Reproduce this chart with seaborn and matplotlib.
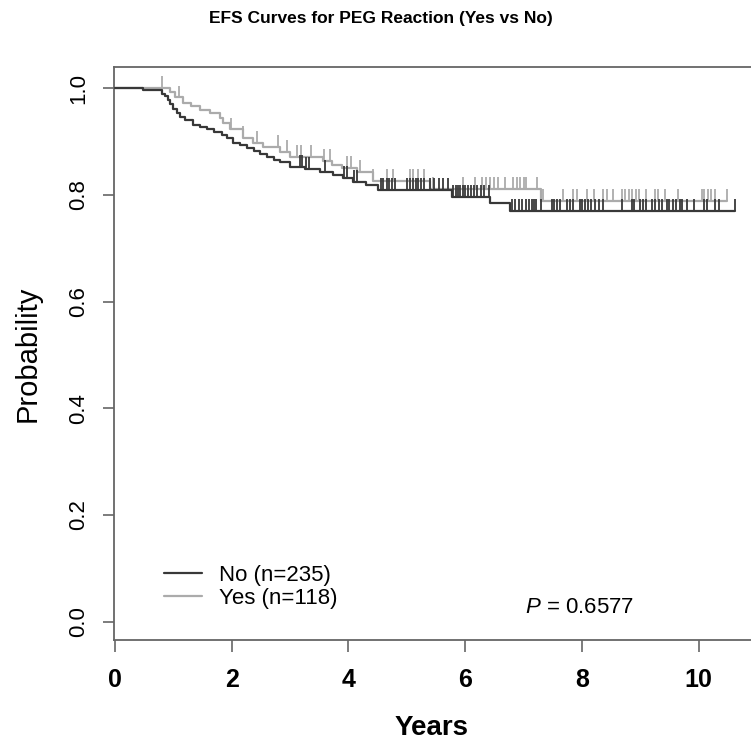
import numpy as np
import pandas as pd
import matplotlib
matplotlib.use("Agg")
import matplotlib.pyplot as plt
import seaborn as sns
from matplotlib.path import Path

# survival steps (time in years, probability after the step)
no_times = [0.0, 0.48, 0.80, 0.85, 0.90, 0.95, 1.00, 1.06, 1.12, 1.20, 1.34, 1.45, 1.57, 1.70,
            1.83, 1.92, 2.02, 2.15, 2.26, 2.38, 2.49, 2.60, 2.72, 2.83, 3.00, 3.25, 3.51, 3.74,
            3.90, 4.08, 4.30, 4.51, 5.78, 6.43, 6.77, 10.63]
no_surv = [1.0, 0.996, 0.990, 0.985, 0.978, 0.970, 0.962, 0.954, 0.947, 0.940, 0.932, 0.928,
           0.924, 0.918, 0.913, 0.906, 0.898, 0.893, 0.889, 0.882, 0.876, 0.871, 0.866, 0.862,
           0.853, 0.849, 0.843, 0.838, 0.832, 0.825, 0.818, 0.810, 0.797, 0.785, 0.770, 0.770]

yes_times = [0.0, 0.94, 1.03, 1.17, 1.30, 1.46, 1.62, 1.80, 1.85, 1.97, 2.20, 2.37, 2.54, 2.83,
             3.00, 3.57, 3.72, 3.89, 4.14, 4.42, 5.40, 7.30, 10.48]
yes_surv = [1.0, 0.993, 0.983, 0.973, 0.967, 0.960, 0.953, 0.945, 0.935, 0.923, 0.907, 0.898,
            0.890, 0.881, 0.872, 0.864, 0.857, 0.851, 0.844, 0.826, 0.812, 0.789, 0.789]

# censoring times
no_censor = [3.17, 3.20, 3.27, 3.32, 3.60, 3.93, 3.97, 4.10, 4.15, 4.55, 4.60, 4.66, 4.70, 4.75,
             4.80, 5.00, 5.05, 5.10, 5.15, 5.20, 5.25, 5.30, 5.40, 5.47, 5.55, 5.62, 5.70, 5.80,
             5.85, 5.88, 5.92, 5.96, 6.00, 6.05, 6.10, 6.15, 6.20, 6.27, 6.33, 6.40, 6.80, 6.86,
             6.92, 6.98, 7.05, 7.10, 7.14, 7.18, 7.22, 7.30, 7.48, 7.52, 7.58, 7.63, 7.74, 7.80,
             7.85, 7.97, 8.00, 8.05, 8.10, 8.15, 8.22, 8.30, 8.37, 8.68, 8.85, 8.90, 9.00, 9.05,
             9.10, 9.20, 9.25, 9.32, 9.38, 9.45, 9.50, 9.56, 9.62, 9.68, 9.72, 9.80, 9.92, 10.10,
             10.15, 10.28, 10.35, 10.63]
yes_censor = [0.80, 1.10, 1.99, 2.20, 2.43, 2.80, 2.94, 3.11, 3.19, 3.36, 3.58, 3.68, 3.98, 4.04,
              4.20, 4.42, 4.66, 4.77, 5.06, 5.11, 5.20, 5.30, 5.45, 5.97, 6.17, 6.29, 6.36, 6.43,
              6.50, 6.57, 6.68, 6.82, 6.88, 6.94, 7.00, 7.05, 7.23, 7.34, 7.68, 7.85, 7.91, 8.08,
              8.20, 8.37, 8.43, 8.54, 8.68, 8.74, 8.80, 8.86, 8.92, 8.98, 9.10, 9.25, 9.30, 9.42,
              9.65, 10.05, 10.10, 10.16, 10.22, 10.28, 10.48]

groups = ["No (n=235)", "Yes (n=118)"]
colors = {"No (n=235)": "#383838", "Yes (n=118)": "#ababab"}
x_ticks = [0, 2, 4, 6, 8, 10]
y_ticks = [0.0, 0.2, 0.4, 0.6, 0.8, 1.0]

sns.set_theme(style="white")
plt.rcParams["font.family"] = ["Liberation Sans", "DejaVu Sans"]
plt.rcParams["mathtext.fontset"] = "custom"
plt.rcParams["mathtext.it"] = "Liberation Sans:italic"
plt.rcParams["mathtext.rm"] = "Liberation Sans"
plt.rcParams["text.color"] = "black"
plt.rcParams["axes.labelcolor"] = "black"

def level_at(times, surv, t):
    idx = np.searchsorted(times, t, side="right") - 1
    return np.asarray(surv)[idx]

curves = pd.concat([
    pd.DataFrame({"t": no_times, "s": no_surv, "g": groups[0]}),
    pd.DataFrame({"t": yes_times, "s": yes_surv, "g": groups[1]}),
])
marks = pd.concat([
    pd.DataFrame({"t": no_censor, "s": level_at(no_times, no_surv, no_censor), "g": groups[0]}),
    pd.DataFrame({"t": yes_censor, "s": level_at(yes_times, yes_surv, yes_censor), "g": groups[1]}),
])

fig = plt.figure(figsize=(7.51, 7.47), dpi=100)
ax = fig.add_axes([114 / 751, 107 / 747, 678 / 751, 573.3 / 747])

# upward tick for censored observations
tick = Path([(0, 0), (0, 1)], [Path.MOVETO, Path.LINETO])

for g, z in [(groups[0], 3), (groups[1], 2)]:
    d = curves[curves.g == g]
    sns.lineplot(data=d, x="t", y="s", ax=ax, drawstyle="steps-post", estimator=None,
                 sort=False, color=colors[g], linewidth=1.6, label=g, zorder=z)
    m = marks[marks.g == g]
    ax.scatter(m.t, m.s, marker=tick, s=290, linewidths=1.3, edgecolors=colors[g],
               facecolors="none", zorder=z)

ax.set_xlim(-0.017, 11.6)
ax.set_ylim(-0.0343, 1.0405)
ax.set_xticks(x_ticks)
ax.set_xticklabels([str(v) for v in x_ticks], fontsize=18, fontweight="bold")
ax.set_yticks(y_ticks)
ax.set_yticklabels([f"{v:.1f}" for v in y_ticks], fontsize=16, rotation=90, va="center")
ax.tick_params(axis="x", length=8.5, width=1.2, color="#666666", labelcolor="black",
               pad=12, bottom=True)
ax.tick_params(axis="y", length=8, width=1.2, color="#666666", labelcolor="black",
               pad=10, left=True)
for sp in ax.spines.values():
    sp.set_color("#666666")
    sp.set_linewidth(1.3)

ax.set_xlabel("")
ax.set_ylabel("Probability", fontsize=21, va="center")
ax.yaxis.set_label_coords(-0.127, 0.5)

ax.legend(loc="upper left", bbox_to_anchor=(0.074, 0.131), frameon=False, fontsize=16,
          handlelength=1.7, handletextpad=0.75, labelspacing=0.1, borderpad=0, borderaxespad=0)

ax.text(7.03, 0.026, r"$\mathit{P}$ = 0.6577", fontsize=16, ha="left", va="center")

fig.text(381 / 751, 1 - 18 / 747, "EFS Curves for PEG Reaction (Yes vs No)", fontsize=12.5,
         fontweight="bold", ha="center", va="center")
fig.text(432 / 751, 1 - 728 / 747, "Years", fontsize=20, fontweight="bold", ha="center", va="center")

fig.savefig("out.png", dpi=100)
